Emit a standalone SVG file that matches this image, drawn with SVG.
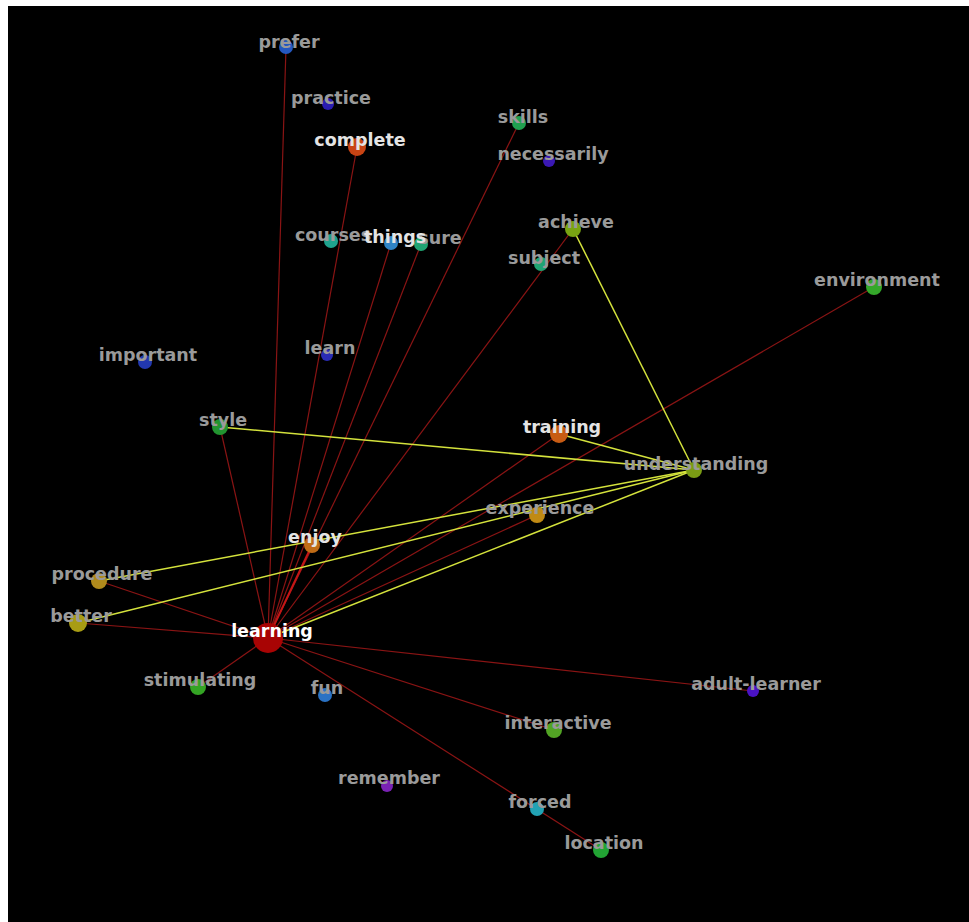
<svg xmlns="http://www.w3.org/2000/svg" width="969" height="922" viewBox="0 0 969 922">
<style>
.lbl{font-family:"DejaVu Sans","Liberation Sans",sans-serif;font-weight:bold;font-size:17.5px;fill:#9a9a9a;text-anchor:middle}
.hi{fill:#e4e4e4}
.top{fill:#ffffff}
.re{stroke:#8a1414;stroke-width:1.2;fill:none}
.ye{stroke:#d4e23c;stroke-width:1.5;fill:none}
</style>
<rect x="0" y="0" width="969" height="922" fill="#ffffff"/>
<rect x="8" y="6" width="961" height="916" fill="#000000"/>
<g id="connectors">
<line class="re" x1="268" y1="638" x2="286" y2="47"/>
<line class="re" x1="268" y1="638" x2="357" y2="147"/>
<line class="re" x1="268" y1="638" x2="519" y2="123"/>
<line class="re" x1="268" y1="638" x2="391" y2="243"/>
<line class="re" x1="268" y1="638" x2="421" y2="244"/>
<line class="re" x1="268" y1="638" x2="573" y2="229"/>
<line class="re" x1="268" y1="638" x2="874" y2="287"/>
<line class="re" x1="268" y1="638" x2="559" y2="434"/>
<line class="re" x1="268" y1="638" x2="537" y2="515"/>
<line class="re" x1="268" y1="638" x2="220" y2="427"/>
<line class="re" x1="268" y1="638" x2="99" y2="581"/>
<line class="re" x1="268" y1="638" x2="78" y2="623"/>
<line class="re" x1="268" y1="638" x2="198" y2="687"/>
<line class="re" x1="268" y1="638" x2="753" y2="691"/>
<line class="re" x1="268" y1="638" x2="554" y2="730"/>
<line class="re" x1="268" y1="638" x2="601" y2="850"/>
<line x1="268" y1="638" x2="312" y2="545" stroke="#c41616" stroke-width="2"/>
<line class="ye" x1="694" y1="470" x2="573" y2="229"/>
<line class="ye" x1="694" y1="470" x2="220" y2="427"/>
<line class="ye" x1="694" y1="470" x2="559" y2="434"/>
<line class="ye" x1="694" y1="470" x2="99" y2="581"/>
<line class="ye" x1="694" y1="470" x2="78" y2="623"/>
<line class="ye" x1="694" y1="470" x2="268" y2="638"/>
</g>
<g id="n-prefer"><circle cx="286" cy="47" r="7" fill="#2458c0"/><text class="lbl" x="289" y="48">prefer</text></g>
<g id="n-practice"><circle cx="328" cy="104" r="6" fill="#2a1cb0"/><text class="lbl" x="331" y="104">practice</text></g>
<g id="n-complete"><circle cx="357" cy="147" r="9" fill="#c84414"/><text class="lbl hi" x="360" y="146">complete</text></g>
<g id="n-skills"><circle cx="519" cy="123" r="7" fill="#20a050"/><text class="lbl" x="523" y="123">skills</text></g>
<g id="n-necessarily"><circle cx="549" cy="161" r="6" fill="#3a18b4"/><text class="lbl" x="553" y="160">necessarily</text></g>
<g id="n-courses"><circle cx="331" cy="241" r="7" fill="#1fa28e"/><text class="lbl" x="333" y="241">courses</text></g>
<g id="n-sure"><circle cx="421" cy="244" r="7" fill="#1fa472"/><text class="lbl" x="440" y="244">sure</text></g>
<g id="n-things"><circle cx="391" cy="243" r="7" fill="#2f84c6"/><text class="lbl hi" x="395" y="243">things</text></g>
<g id="n-achieve"><circle cx="573" cy="229" r="8" fill="#78a412"/><text class="lbl" x="576" y="228">achieve</text></g>
<g id="n-subject"><circle cx="541" cy="264" r="7" fill="#1fa472"/><text class="lbl" x="544" y="264">subject</text></g>
<g id="n-environment"><circle cx="874" cy="287" r="8" fill="#34a82a"/><text class="lbl" x="877" y="286">environment</text></g>
<g id="n-important"><circle cx="145" cy="362" r="7" fill="#2238b0"/><text class="lbl" x="148" y="361">important</text></g>
<g id="n-learn"><circle cx="327" cy="355" r="6" fill="#2a2cb4"/><text class="lbl" x="330" y="354">learn</text></g>
<g id="n-style"><circle cx="220" cy="427" r="8" fill="#229430"/><text class="lbl" x="223" y="426">style</text></g>
<g id="n-training"><circle cx="559" cy="434" r="9" fill="#c85c14"/><text class="lbl hi" x="562" y="433">training</text></g>
<g id="n-understanding"><circle cx="694" cy="470" r="8" fill="#7a9c14"/><text class="lbl" x="696" y="470">understanding</text></g>
<g id="n-experience"><circle cx="537" cy="515" r="8" fill="#c08a14"/><text class="lbl" x="540" y="514">experience</text></g>
<g id="n-enjoy"><circle cx="312" cy="545" r="8" fill="#c06c16"/><text class="lbl hi" x="315" y="543">enjoy</text></g>
<g id="n-procedure"><circle cx="99" cy="581" r="8" fill="#b08a1c"/><text class="lbl" x="102" y="580">procedure</text></g>
<g id="n-better"><circle cx="78" cy="623" r="9" fill="#a89c14"/><text class="lbl" x="81" y="622">better</text></g>
<g id="n-stimulating"><circle cx="198" cy="687" r="8" fill="#34a424"/><text class="lbl" x="200" y="686">stimulating</text></g>
<g id="n-fun"><circle cx="325" cy="695" r="7" fill="#2a72c4"/><text class="lbl" x="327" y="694">fun</text></g>
<g id="n-adult-learner"><circle cx="753" cy="691" r="6" fill="#4a12c4"/><text class="lbl" x="756" y="690">adult-learner</text></g>
<g id="n-interactive"><circle cx="554" cy="730" r="8" fill="#52a424"/><text class="lbl" x="558" y="729">interactive</text></g>
<g id="n-remember"><circle cx="387" cy="786" r="6" fill="#7a22b4"/><text class="lbl" x="389" y="784">remember</text></g>
<g id="n-forced"><circle cx="537" cy="809" r="7" fill="#22a2b4"/><text class="lbl" x="540" y="808">forced</text></g>
<g id="n-location"><circle cx="601" cy="850" r="8" fill="#22a434"/><text class="lbl" x="604" y="849">location</text></g>
<g id="n-learning"><circle cx="268" cy="638" r="15" fill="#a80404"/><text class="lbl top" x="272" y="637">learning</text></g>
</svg>
